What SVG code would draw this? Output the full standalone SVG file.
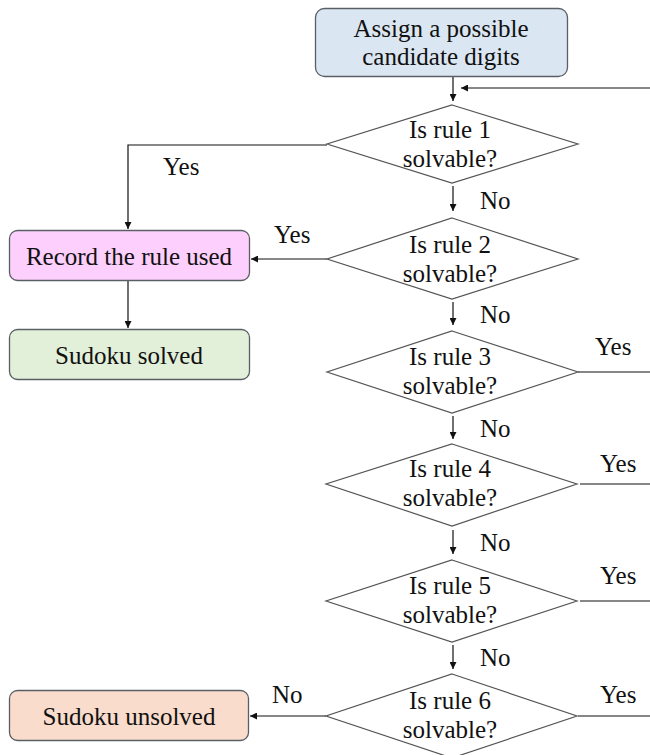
<svg xmlns="http://www.w3.org/2000/svg" width="650" height="755" viewBox="0 0 650 755">
<defs>
<marker id="ah" viewBox="0 0 10 10" refX="10" refY="5" markerWidth="7" markerHeight="7" markerUnits="userSpaceOnUse" orient="auto">
<path d="M0,0 L10,5 L0,10 Z" fill="#111"/>
</marker>
<style>
text{font-family:'Liberation Serif','Times New Roman',Tinos,'DejaVu Serif',serif;font-size:25px;fill:#111}
.c{text-anchor:middle}
.box{stroke:#5a5f66;stroke-width:1.3}
.dia{fill:#fff;stroke:#555;stroke-width:1.2}
.ln{fill:none;stroke:#111;stroke-width:1.2}
.ar{fill:none;stroke:#111;stroke-width:1.2;marker-end:url(#ah)}
</style>
</defs>
<rect width="650" height="755" fill="#fff"/>
<g font-family="Liberation Serif, Times New Roman, DejaVu Serif, serif">
<g id="connectors">
<line class="ar" x1="453" y1="77" x2="453" y2="101"/>
<line class="ar" x1="650" y1="88" x2="461" y2="88"/>
<polyline class="ar" points="327,145 128,145 128,229"/>
<line class="ar" x1="327" y1="259" x2="251" y2="259"/>
<line class="ar" x1="128" y1="281" x2="128" y2="328"/>
<line class="ar" x1="453" y1="186" x2="453" y2="211"/>
<line class="ar" x1="453" y1="302" x2="453" y2="325"/>
<line class="ar" x1="453" y1="416" x2="453" y2="439"/>
<line class="ar" x1="453" y1="530" x2="453" y2="554"/>
<line class="ar" x1="453" y1="645" x2="453" y2="669"/>
<line class="ar" x1="326" y1="716" x2="250" y2="716"/>
<line class="ln" x1="578" y1="372" x2="650" y2="372"/>
<line class="ln" x1="580" y1="484" x2="650" y2="484"/>
<line class="ln" x1="580" y1="601" x2="650" y2="601"/>
<line class="ln" x1="578" y1="716" x2="650" y2="716"/>
<text x="163" y="175">Yes</text>
<text x="274" y="243">Yes</text>
<text x="480" y="209">No</text>
<text x="480" y="323">No</text>
<text x="480" y="437">No</text>
<text x="480" y="551">No</text>
<text x="480" y="666">No</text>
<text x="595" y="355">Yes</text>
<text x="600" y="472">Yes</text>
<text x="600" y="584">Yes</text>
<text x="600" y="703">Yes</text>
<text x="272" y="703">No</text>
</g>
<g id="start">
<rect class="box" x="315.5" y="8.5" width="252" height="68" rx="9" fill="#dae6f2"/>
<text class="c" x="441" y="37">Assign a possible</text>
<text class="c" x="441" y="65">candidate digits</text>
</g>
<g id="record">
<rect class="box" x="9.5" y="230.5" width="240" height="50" rx="8" fill="#fccffc"/>
<text class="c" x="129" y="265">Record the rule used</text>
</g>
<g id="solved">
<rect class="box" x="9.5" y="329.5" width="240" height="50" rx="8" fill="#e2efd9"/>
<text class="c" x="129" y="364">Sudoku solved</text>
</g>
<g id="unsolved">
<rect class="box" x="9.5" y="690.5" width="239" height="50" rx="8" fill="#f9dccb"/>
<text class="c" x="129" y="725">Sudoku unsolved</text>
</g>
<g id="rule1">
<polygon class="dia" points="452,105 578,144 452,183 327,144"/>
<text class="c" x="450" y="138">Is rule 1</text>
<text class="c" x="450" y="167">solvable?</text>
</g>
<g id="rule2">
<polygon class="dia" points="452,218 578,259 452,299 327,259"/>
<text class="c" x="450" y="253">Is rule 2</text>
<text class="c" x="450" y="282">solvable?</text>
</g>
<g id="rule3">
<polygon class="dia" points="452,331 578,372 452,413 327,372"/>
<text class="c" x="450" y="365">Is rule 3</text>
<text class="c" x="450" y="394">solvable?</text>
</g>
<g id="rule4">
<polygon class="dia" points="452,444 577,484 452,526 326,484"/>
<text class="c" x="450" y="477">Is rule 4</text>
<text class="c" x="450" y="506">solvable?</text>
</g>
<g id="rule5">
<polygon class="dia" points="452,560 577,601 452,642 326,601"/>
<text class="c" x="450" y="594">Is rule 5</text>
<text class="c" x="450" y="623">solvable?</text>
</g>
<g id="rule6">
<polygon class="dia" points="452,674 577,716 452,758 326,716"/>
<text class="c" x="450" y="709">Is rule 6</text>
<text class="c" x="450" y="738">solvable?</text>
</g>
</g>
</svg>
